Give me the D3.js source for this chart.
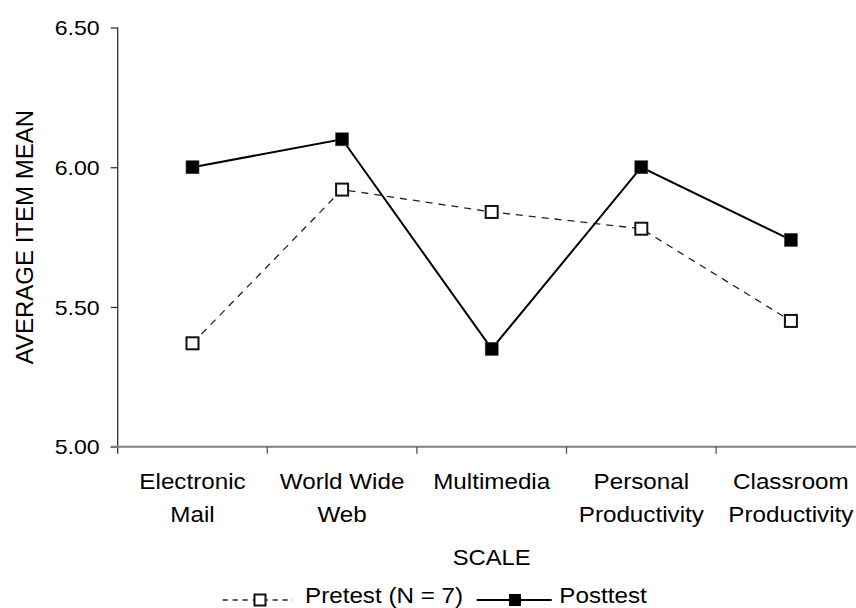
<!DOCTYPE html>
<html>
<head>
<meta charset="utf-8" />
<title>Average item mean by scale</title>
<style>
html, body { margin: 0; padding: 0; background: #fff; }
#chart { width: 856px; height: 608px; }
text { font-family: "Liberation Sans", Arial, sans-serif; fill: #000; }
</style>
</head>
<body>
<div id="chart"></div>
<script src="https://cdn.jsdelivr.net/npm/d3@7/dist/d3.min.js"></script>
<script>
// data
var categories = ["Electronic\nMail", "World Wide\nWeb", "Multimedia", "Personal\nProductivity", "Classroom\nProductivity"];
var pretest  = [5.37, 5.92, 5.84, 5.78, 5.45];
var posttest = [6.00, 6.10, 5.35, 6.00, 5.74];
var yTicks = [5.00, 5.50, 6.00, 6.50];
var seriesNames = ["Pretest (N = 7)", "Posttest"];

!(function(){
    "use strict"

    var width = 856, height = 608
    var left = 117.7, right = 865.7, top = 27.5, bottom = 446.7

    var svg = d3.select("#chart").append("svg")
        .attr("width", width).attr("height", height)

    var x = d3.scaleBand().domain(categories).range([left, right])
    var y = d3.scaleLinear().domain([5, 6.5]).range([bottom, top])

    // text in the reference is a bit wider than Liberation Sans
    function widen(sel, k) {
        sel.each(function(){
            var w = this.getComputedTextLength()
            this.setAttribute("textLength", w * k)
            this.setAttribute("lengthAdjust", "spacingAndGlyphs")
        })
    }

    // y axis
    var yAxis = svg.append("g")
        .attr("transform", "translate(" + left + ",0)")
        .call(d3.axisLeft(y).tickValues(yTicks).tickSize(7).tickPadding(11).tickFormat(d3.format(".2f")))
    yAxis.attr("font-size", null).attr("font-family", null)
    yAxis.select(".domain").remove()
    yAxis.selectAll(".tick line").attr("stroke", "#333").attr("stroke-width", 1.3)
    yAxis.selectAll(".tick text").attr("font-size", "21px")
        .attr("dy", "0.34em").attr("fill", "#000")
    widen(yAxis.selectAll(".tick text"), 1.1)
    svg.append("line")
        .attr("x1", left).attr("x2", left)
        .attr("y1", top).attr("y2", bottom + 7)
        .attr("stroke", "#333").attr("stroke-width", 1.3)

    // x axis: line and ticks at category boundaries
    svg.append("line")
        .attr("x1", left - 7).attr("x2", right)
        .attr("y1", bottom).attr("y2", bottom)
        .attr("stroke", "#7f7f7f").attr("stroke-width", 2)
    svg.append("g").selectAll("line")
        .data(categories.slice(1))
        .enter().append("line")
        .attr("x1", function(d){ return x(d) }).attr("x2", function(d){ return x(d) })
        .attr("y1", bottom).attr("y2", bottom + 7)
        .attr("stroke", "#555").attr("stroke-width", 1.3)

    var catLabels = svg.append("g").selectAll("text")
        .data(categories)
        .enter().append("text")
        .attr("text-anchor", "middle")
        .attr("font-size", "22px")
    catLabels.selectAll("tspan")
        .data(function(d){ return d.split("\n").map(function(s){ return { cat: d, line: s } }) })
        .enter().append("tspan")
        .attr("x", function(d){ return x(d.cat) + x.bandwidth() / 2 })
        .attr("y", function(d, i){ return 489.3 + i * 32.4 })
        .text(function(d){ return d.line })
    widen(catLabels.selectAll("tspan"), 1.1)

    // axis titles
    var xTitle = svg.append("text")
        .attr("x", (left + right) / 2).attr("y", 565)
        .attr("text-anchor", "middle").attr("font-size", "22px")
        .text("SCALE")
    widen(xTitle, 1.08)

    svg.append("text")
        .attr("transform", "translate(33.3," + ((top + bottom) / 2) + ") rotate(-90)")
        .attr("text-anchor", "middle").attr("font-size", "24px")
        .text("AVERAGE ITEM MEAN")

    var line = d3.line()
        .x(function(d, i){ return x(categories[i]) + x.bandwidth() / 2 })
        .y(function(d){ return y(d) })

    // pretest: dashed, open squares
    svg.append("path")
        .datum(pretest)
        .attr("d", line)
        .attr("fill", "none").attr("stroke", "#222")
        .attr("stroke-width", 1.3).attr("stroke-dasharray", "7,6")

    // posttest: solid, filled squares
    svg.append("path")
        .datum(posttest)
        .attr("d", line)
        .attr("fill", "none").attr("stroke", "#000")
        .attr("stroke-width", 2)

    var s = 12
    svg.append("g").selectAll("rect")
        .data(pretest)
        .enter().append("rect")
        .attr("x", function(d, i){ return x(categories[i]) + x.bandwidth() / 2 - s / 2 })
        .attr("y", function(d){ return y(d) - s / 2 })
        .attr("width", s).attr("height", s)
        .attr("fill", "#fff").attr("stroke", "#111").attr("stroke-width", 2)

    svg.append("g").selectAll("rect")
        .data(posttest)
        .enter().append("rect")
        .attr("x", function(d, i){ return x(categories[i]) + x.bandwidth() / 2 - (s + 1) / 2 })
        .attr("y", function(d){ return y(d) - (s + 1) / 2 })
        .attr("width", s + 1).attr("height", s + 1)
        .attr("fill", "#000").attr("stroke", "#444").attr("stroke-width", 0.6)

    // legend
    var ly = 600
    var legend = svg.append("g")
    legend.append("line")
        .attr("x1", 222.7).attr("x2", 293).attr("y1", ly).attr("y2", ly)
        .attr("stroke", "#222").attr("stroke-width", 1.3).attr("stroke-dasharray", "5,5")
    legend.append("rect")
        .attr("x", 260 - 5.5).attr("y", ly - 5.5).attr("width", 11).attr("height", 11)
        .attr("fill", "#fff").attr("stroke", "#111").attr("stroke-width", 2)
    var l1 = legend.append("text")
        .attr("x", 305).attr("y", 603).attr("font-size", "22px")
        .text(seriesNames[0])
    widen(l1, 1.1)

    legend.append("line")
        .attr("x1", 476.7).attr("x2", 551.7).attr("y1", ly).attr("y2", ly)
        .attr("stroke", "#000").attr("stroke-width", 2)
    legend.append("rect")
        .attr("x", 515 - 6).attr("y", ly - 6).attr("width", 12).attr("height", 12)
        .attr("fill", "#000")
    var l2 = legend.append("text")
        .attr("x", 559.3).attr("y", 603).attr("font-size", "22px")
        .text(seriesNames[1])
    widen(l2, 1.1)

}());
</script>
</body>
</html>
